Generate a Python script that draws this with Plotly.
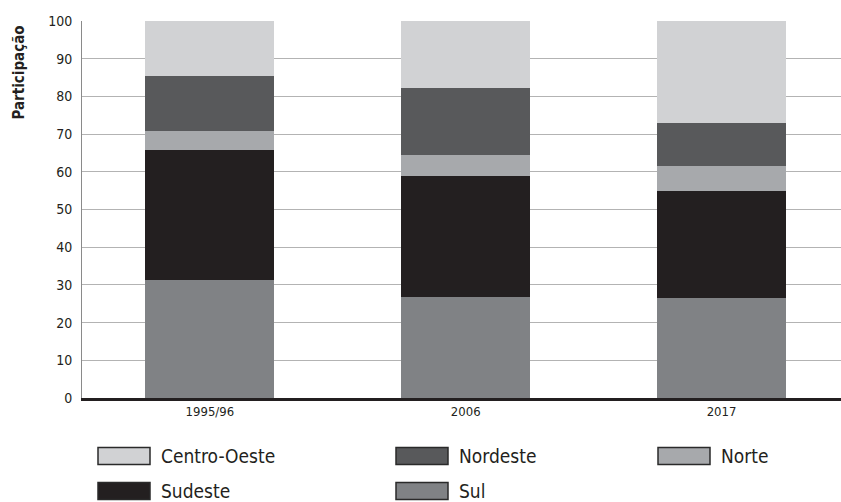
import plotly.graph_objects as go

categories = ["1995/96", "2006", "2017"]
series_names = ["Sul", "Sudeste", "Norte", "Nordeste", "Centro-Oeste"]
sul = [31.4, 26.9, 26.6]
sudeste = [34.5, 32.1, 28.4]
norte = [5.0, 5.5, 6.6]
nordeste = [14.6, 17.8, 11.4]
centro_oeste = [14.5, 17.7, 27.0]
y_ticks = [0, 10, 20, 30, 40, 50, 60, 70, 80, 90, 100]
legend_order = ["Centro-Oeste", "Nordeste", "Norte", "Sudeste", "Sul"]

values = {"Sul": sul, "Sudeste": sudeste, "Norte": norte,
          "Nordeste": nordeste, "Centro-Oeste": centro_oeste}
colors = {"Centro-Oeste": "#d1d2d4", "Nordeste": "#58595b", "Norte": "#a7a9ac",
          "Sudeste": "#231f20", "Sul": "#808285"}

FONT = "DejaVu Sans Condensed, Liberation Sans Narrow, Arial Narrow, sans-serif"

W, H = 841, 502
ml, mt, mb, mr = 82, 21, H - 398, 0
pw, ph = W - ml - mr, H - mt - mb


def px_x(page_x):
    return (page_x - ml) / pw


def px_y(page_y):
    return (H - mb - page_y) / ph


fig = go.Figure()
for name in series_names:
    fig.add_trace(go.Bar(x=categories, y=values[name], name=name,
                         marker=dict(color=colors[name], line=dict(width=0)),
                         width=0.504, showlegend=False, hoverinfo="skip"))

fig.update_layout(
    width=W, height=H, barmode="stack",
    margin=dict(l=ml, r=mr, t=mt, b=mb, pad=0),
    paper_bgcolor="white", plot_bgcolor="white",
    font=dict(family=FONT, color="#231f20"),
    xaxis=dict(range=[-0.5, 2.467], showgrid=False, showline=True,
               linecolor="#231f20", linewidth=2.5, ticks="",
               tickfont=dict(size=13, color="#231f20"), fixedrange=True),
    yaxis=dict(range=[0, 100], tickvals=y_ticks, showgrid=True,
               gridcolor="#b3b3b3", gridwidth=1.3, showline=True,
               linecolor="#8a8a8a", linewidth=1, ticks="", zeroline=False,
               ticklabelstandoff=6,
               tickfont=dict(size=14, color="#231f20"), fixedrange=True),
)

fig.add_annotation(text="<b>Participação</b>", xref="paper", yref="paper",
                   x=px_x(18.5), y=px_y(73), textangle=-90,
                   showarrow=False, font=dict(size=15, family=FONT, color="#231f20"),
                   xanchor="center", yanchor="middle")

# manual legend (alphabetical, three columns)
col_x = [98, 396, 658]
row_y = [456, 491]
sw_w, sw_h = 52, 17
for i, name in enumerate(legend_order):
    cx = col_x[i % 3]
    cy = row_y[i // 3]
    fig.add_shape(type="rect", xref="paper", yref="paper",
                  x0=px_x(cx), x1=px_x(cx + sw_w),
                  y0=px_y(cy + sw_h / 2), y1=px_y(cy - sw_h / 2),
                  fillcolor=colors[name], line=dict(color="#2a2a2a", width=1.5))
    fig.add_annotation(text=name, xref="paper", yref="paper",
                       x=px_x(cx + sw_w + 9), y=px_y(cy),
                       xanchor="left", yanchor="middle", showarrow=False,
                       font=dict(size=19, family=FONT, color="#231f20"))

fig.write_html("out.html", config={"displayModeBar": False},
               post_script="document.body.style.margin='0';document.body.style.overflow='hidden';")
